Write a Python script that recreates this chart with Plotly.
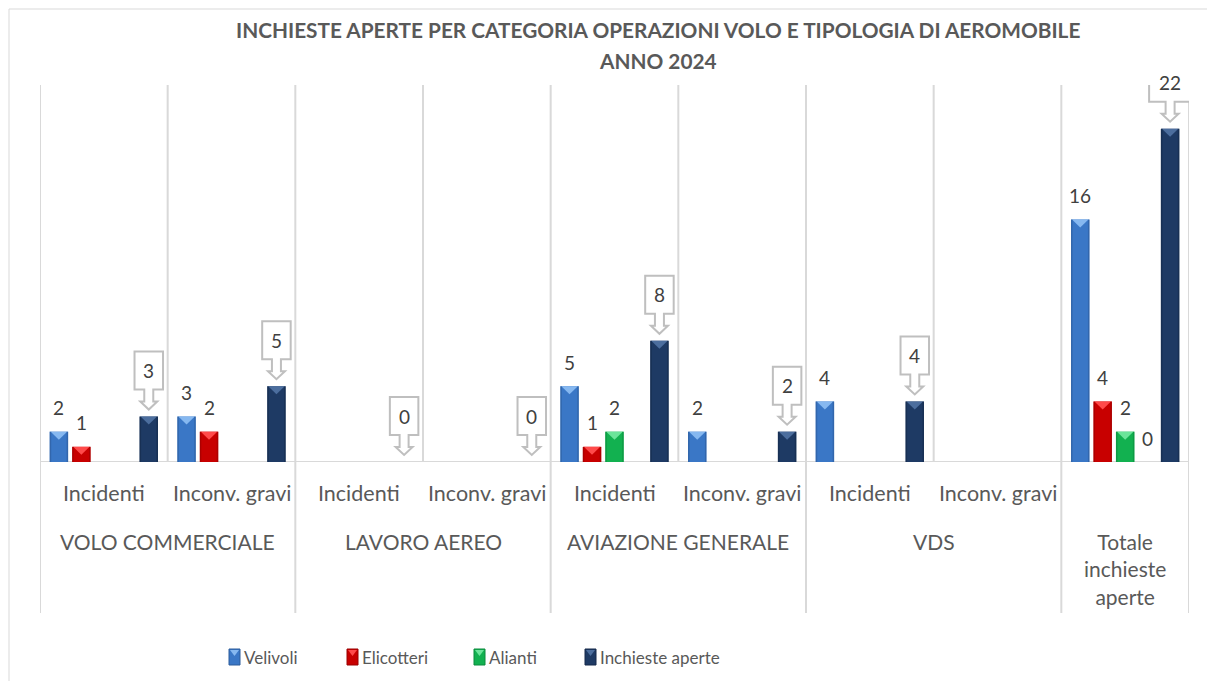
import plotly.graph_objects as go

# ---------------- data ----------------
title_line1 = "INCHIESTE APERTE PER CATEGORIA OPERAZIONI VOLO E TIPOLOGIA DI AEROMOBILE"
title_line2 = "ANNO 2024"
sub_labels = ["Incidenti", "Inconv. gravi"] * 4
total_label = "Totale<br>inchieste<br>aperte"
group_labels = ["VOLO COMMERCIALE", "LAVORO AEREO", "AVIAZIONE GENERALE", "VDS"]
categories = ["VC Incidenti", "VC Inconv. gravi", "LA Incidenti", "LA Inconv. gravi",
              "AG Incidenti", "AG Inconv. gravi", "VDS Incidenti", "VDS Inconv. gravi",
              "Totale"]
velivoli = [2, 3, None, None, 5, 2, 4, None, 16]
elicotteri = [1, 2, None, None, 1, None, None, None, 4]
alianti = [None, None, None, None, 2, None, None, None, 2]
altro = [None, None, None, None, None, None, None, None, 0]
inchieste = [3, 5, 0, 0, 8, 2, 4, None, 22]

series_names = ["Velivoli", "Elicotteri", "Alianti", "Altro", "Inchieste aperte"]
series_values = [velivoli, elicotteri, alianti, altro, inchieste]
series_colors = ["#3A77C6", "#C80000", "#12B150", "#7F7F7F", "#1E3A64"]
series_lines = ["#2D5C9B", "#9A0000", "#0A8A3C", "#5F5F5F", "#14294A"]
series_tops = ["#86B8F0", "#FF4A4A", "#6BE59A", "#BFBFBF", "#4C6E9E"]
legend_series = [0, 1, 2, 4]

# ---------------- geometry / style ----------------
W, H = 1207, 681
L, R, T, B = 40, 18, 85, 219
PW, PH = W - L - R, H - T - B
BARGAP, GROUPGAP = 0.12, 0.18
NS = len(series_names)
YMAX = 24.88
FONT = "Lato"
TXT = "#595959"
NUM = "#404040"
GRID = "#D9D9D9"

def px_x(px):
    return (px - L) / PW

def px_y(py):
    return (H - B - py) / PH

def slot_off(i):
    w = (1 - BARGAP) / NS
    return -(1 - BARGAP) / 2 + w * (i + 0.5)

x = list(range(len(categories)))

fig = go.Figure()
for i, (nm, vals) in enumerate(zip(series_names, series_values)):
    fig.add_trace(go.Bar(
        x=x, y=vals, name=nm,
        marker=dict(color=series_colors[i], line=dict(width=0)),
        showlegend=False, hovertext=categories,
    ))

shapes = []
annotations = []

# bevel-like top triangles and darker edges
bar_px = (1 - BARGAP) / NS * (1 - GROUPGAP) * PW / len(categories)
hb = bar_px / 2
for i, vals in enumerate(series_values):
    for k, v in enumerate(vals):
        if v is None or v <= 0:
            continue
        hpx = v * PH / YMAX
        shapes.append(dict(type="path", xref="x", yref="y",
                           xsizemode="pixel", ysizemode="pixel",
                           xanchor=k + slot_off(i), yanchor=v,
                           path=f"M {-hb+1},0 L {hb-1},0 L 0,-8 Z",
                           fillcolor=series_tops[i], line=dict(width=0), layer="above"))
        shapes.append(dict(type="path", xref="x", yref="y",
                           xsizemode="pixel", ysizemode="pixel",
                           xanchor=k + slot_off(i), yanchor=v,
                           path=f"M {-hb},0 L {-hb},{-hpx} L {-hb+1.5},{-hpx} L {-hb+1.5},0 Z",
                           fillcolor=series_lines[i], line=dict(width=0), opacity=0.6,
                           layer="above"))
        shapes.append(dict(type="path", xref="x", yref="y",
                           xsizemode="pixel", ysizemode="pixel",
                           xanchor=k + slot_off(i), yanchor=v,
                           path=f"M {hb},0 L {hb},{-hpx} L {hb-1.5},{-hpx} L {hb-1.5},0 Z",
                           fillcolor=series_lines[i], line=dict(width=0), opacity=0.6,
                           layer="above"))

# value labels (non-callout)
for i in range(4):
    for k, v in enumerate(series_values[i]):
        if v is None:
            continue
        annotations.append(dict(x=k + slot_off(i), y=v, xref="x", yref="y",
                                text=str(v), showarrow=False, yshift=24,
                                xanchor="center", yanchor="middle",
                                font=dict(family=FONT, size=19, color=NUM)))

# callouts for Inchieste aperte
for k, v in enumerate(inchieste):
    if v is None:
        continue
    n = len(str(v))
    hw = 7.5 + 6.75 * n
    path = (f"M {-hw},65 L {hw},65 L {hw},27 L 4.5,27 L 4.5,15 L 8.5,15 L 0,7 "
            f"L -8.5,15 L -4.5,15 L -4.5,27 L {-hw},27 Z")
    shapes.append(dict(type="path", xref="x", yref="y",
                       xsizemode="pixel", ysizemode="pixel",
                       xanchor=k + slot_off(4), yanchor=v, path=path,
                       fillcolor="white", line=dict(color="#BFBFBF", width=2)))
    annotations.append(dict(x=k + slot_off(4), y=v, xref="x", yref="y",
                            text=str(v), showarrow=False, yshift=46,
                            xanchor="center", yanchor="middle",
                            font=dict(family=FONT, size=19, color=NUM)))

# separators
for b in range(len(categories) + 1):
    bx = b - 0.5
    long_line = (b % 2 == 0) or b == len(categories)
    shapes.append(dict(type="line", xref="x", yref="paper", x0=bx, x1=bx,
                       y0=1, y1=px_y(613) if long_line else 0,
                       line=dict(color=GRID, width=2), layer="below"))
shapes.append(dict(type="line", xref="x", yref="y", x0=-0.5, x1=len(categories) - 0.5,
                   y0=0, y1=0, line=dict(color=GRID, width=2), layer="below"))
# outer frame
shapes.append(dict(type="rect", xref="paper", yref="paper",
                   x0=px_x(9), x1=px_x(1212), y0=px_y(9), y1=px_y(686),
                   line=dict(color=GRID, width=1), layer="below"))

# category labels
for k, lab in enumerate(sub_labels):
    annotations.append(dict(x=k, y=px_y(493), xref="x", yref="paper", text=lab,
                            showarrow=False, xanchor="center", yanchor="middle",
                            font=dict(family=FONT, size=21.5, color=TXT)))
for g, lab in enumerate(group_labels):
    annotations.append(dict(x=2 * g + 0.5, y=px_y(541), xref="x", yref="paper", text=lab,
                            showarrow=False, xanchor="center", yanchor="middle",
                            font=dict(family=FONT, size=21, color=TXT)))
annotations.append(dict(x=8, y=px_y(569), xref="x", yref="paper", text=total_label,
                        showarrow=False, xanchor="center", yanchor="middle",
                        font=dict(family=FONT, size=21, color=TXT)))

# title
annotations.append(dict(x=px_x(658), y=px_y(30), xref="paper", yref="paper",
                        text=f"<b>{title_line1}</b>", showarrow=False,
                        xanchor="center", yanchor="middle",
                        font=dict(family=FONT, size=20.8, color=TXT)))
annotations.append(dict(x=px_x(658), y=px_y(60), xref="paper", yref="paper",
                        text=f"<b>{title_line2}</b>", showarrow=False,
                        xanchor="center", yanchor="middle",
                        font=dict(family=FONT, size=20.8, color=TXT)))

# legend (drawn manually)
legend_marker_x = [229, 347, 474, 585]
for j, si in enumerate(legend_series):
    mx = legend_marker_x[j]
    shapes.append(dict(type="rect", xref="paper", yref="paper",
                       x0=px_x(mx), x1=px_x(mx + 11), y0=px_y(665), y1=px_y(649),
                       fillcolor=series_colors[si], line=dict(color=series_lines[si], width=1)))
    shapes.append(dict(type="path", xref="paper", yref="paper",
                       path=f"M {px_x(mx+1)},{px_y(650)} L {px_x(mx+10)},{px_y(650)} L {px_x(mx+5.5)},{px_y(656)} Z",
                       fillcolor=series_tops[si], line=dict(width=0)))
    annotations.append(dict(x=px_x(mx + 13), y=px_y(657), xref="paper", yref="paper",
                            text=series_names[si], showarrow=False,
                            xanchor="left", yanchor="middle",
                            font=dict(family=FONT, size=17, color=TXT)))

fig.update_layout(
    width=W, height=H, autosize=False,
    margin=dict(l=L, r=R, t=T, b=B),
    paper_bgcolor="white", plot_bgcolor="white",
    barmode="group", bargap=BARGAP, bargroupgap=GROUPGAP,
    xaxis=dict(range=[-0.5, len(categories) - 0.5], showticklabels=False,
               showgrid=False, zeroline=False, showline=False, ticks=""),
    yaxis=dict(range=[0, YMAX], showticklabels=False, showgrid=False,
               zeroline=False, showline=False, ticks=""),
    shapes=shapes, annotations=annotations,
    showlegend=False,
    font=dict(family=FONT, color=TXT),
)

fig.write_html("out.html", config={"displayModeBar": False},
               post_script="document.body.style.margin='0';document.body.style.overflow='hidden';")
